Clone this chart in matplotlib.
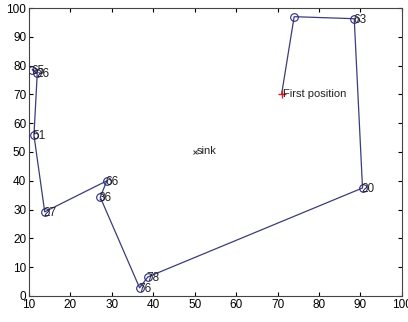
import matplotlib
matplotlib.use('Agg')
import matplotlib.pyplot as plt

# route of the mobile sink, starting at the first position
path_x = [71, 74, 88.5, 90.5, 38.7, 36.7, 27.2, 28.8, 13.8, 11.2, 12, 10.8]
path_y = [70.3, 97, 96.3, 37.5, 6.6, 2.8, 34.3, 40, 29.2, 55.8, 77.3, 78.6]
labels = ['First position', '', '63', '20', '78', '76', '36', '66', '27', '51', '26', '65']
sink_x, sink_y = 50, 50

plt.rcParams['font.family'] = ['Liberation Sans', 'DejaVu Sans']
fig = plt.figure(figsize=(4.08, 3.22), dpi=100)
ax = fig.add_axes([0.071, 0.081, 0.914, 0.894])

line_col = '#3c3c78'
ax.plot(path_x, path_y, '-', color=line_col, lw=0.9)
ax.plot(path_x[1:], path_y[1:], 'o', mfc='none', mec='#2a2a8a', ms=5.5, mew=0.8)
ax.plot(path_x[0], path_y[0], '+', color='#d02020', ms=6, mew=1)
for x, y, t in zip(path_x, path_y, labels):
    if t == 'First position':
        ax.text(x + 0.3, y, t, fontsize=8, va='center', ha='left', color='#222222')
    elif t:
        ax.text(x - 0.3, y - 0.3, t, fontsize=8.5, va='center', ha='left', color='#222222')
ax.plot(sink_x, sink_y, 'x', color='#333333', ms=3, mew=0.7)
ax.text(sink_x + 0.5, sink_y + 0.5, 'sink', fontsize=8, va='center', ha='left', color='#222222')

ax.set_xlim(10, 100)
ax.set_ylim(0, 100)
ax.set_xticks(range(10, 101, 10))
ax.set_yticks(range(0, 101, 10))
ax.tick_params(direction='in', length=3, labelsize=8.5, top=True, right=True, pad=2)
for s in ax.spines.values():
    s.set_color('#444444')

fig.savefig('out.png', dpi=100)
